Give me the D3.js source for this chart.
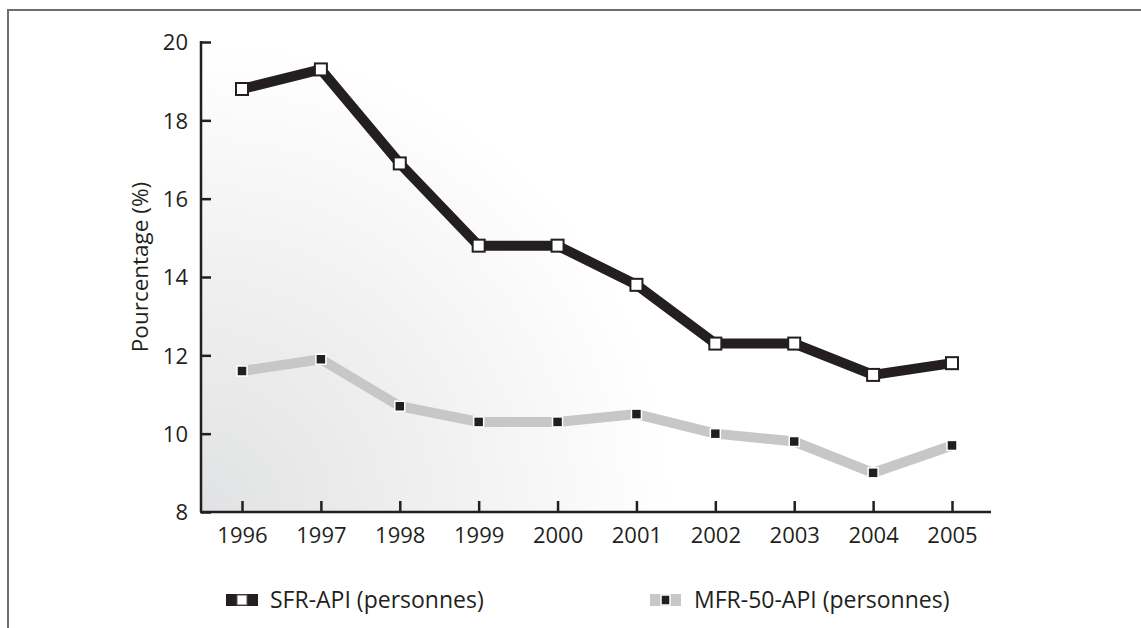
<!DOCTYPE html>
<html>
<head>
<meta charset="utf-8">
<script src="https://cdn.jsdelivr.net/npm/d3@7"></script>
<style>
  body { margin: 0; background: #fff; }
  svg { display: block; font-family: "Open Sans", "Noto Sans", sans-serif; }
</style>
</head>
<body>
<svg id="chart" width="1141" height="628"></svg>
<script>
// Years on the x axis
const years = ["1996", "1997", "1998", "1999", "2000", "2001", "2002", "2003", "2004", "2005"]
// SFR-API (personnes), in percent
const sfrValues = [18.8, 19.3, 16.9, 14.8, 14.8, 13.8, 12.3, 12.3, 11.5, 11.8]
// MFR-50-API (personnes), in percent
const mfrValues = [11.6, 11.9, 10.7, 10.3, 10.3, 10.5, 10.0, 9.8, 9.0, 9.7]
const yTicks = [8, 10, 12, 14, 16, 18, 20]
const seriesNames = ["SFR-API (personnes)", "MFR-50-API (personnes)"]

const ink = "#231f20"
const svg = d3.select("#chart")

// Plot area limits
const plotLeft = 201, plotRight = 991, plotTop = 42, plotBottom = 512

const x = d3.scalePoint().domain(years).range([242, 952])
const y = d3.scaleLinear().domain([8, 20]).range([plotBottom, plotTop])

// Outer frame (top and left edges only)
svg.append("path")
  .attr("d", `M8,628 V10 H1141`)
  .attr("fill", "none")
  .attr("stroke", "#6d6d6d")
  .attr("stroke-width", 2)

// Soft gray glow from the bottom left corner
const defs = svg.append("defs")
const grad = defs.append("radialGradient")
  .attr("id", "bg")
  .attr("gradientUnits", "userSpaceOnUse")
  .attr("cx", plotLeft).attr("cy", plotBottom).attr("r", 470)
grad.append("stop").attr("offset", 0).attr("stop-color", "#e1e2e3")
grad.append("stop").attr("offset", 0.5).attr("stop-color", "#f0f0f0")
grad.append("stop").attr("offset", 1).attr("stop-color", "#ffffff")

svg.append("rect")
  .attr("x", plotLeft).attr("y", plotTop)
  .attr("width", plotRight - plotLeft).attr("height", plotBottom - plotTop)
  .attr("fill", "url(#bg)")

// Y axis
const yAxis = svg.append("g")
  .attr("transform", `translate(${plotLeft},0)`)
  .call(d3.axisLeft(y).tickValues(yTicks).tickSize(-10).tickPadding(13))
yAxis.select(".domain").attr("d", `M0,${plotTop - 1}V${plotBottom}`)

// X axis
const xAxis = svg.append("g")
  .attr("transform", `translate(0,${plotBottom})`)
  .call(d3.axisBottom(x).tickSize(-11).tickPadding(15))
xAxis.select(".domain").attr("d", `M${plotLeft - 1},0H${plotRight}`)

svg.selectAll(".tick text")
  .attr("font-size", 22)
  .attr("fill", ink)
  .attr("font-family", "'Open Sans', 'Noto Sans', sans-serif")
svg.selectAll(".domain, .tick line")
  .attr("stroke", ink)
  .attr("stroke-width", 2.5)
yAxis.selectAll(".tick text").attr("dy", "0.36em")
xAxis.selectAll(".tick text").attr("dy", "0.71em")

// Y axis title
svg.append("text")
  .attr("transform", `translate(148,267) rotate(-90)`)
  .attr("text-anchor", "middle")
  .attr("font-size", 22.5)
  .attr("fill", ink)
  .text("Pourcentage (%)")

const line = d3.line()
  .x((d, i) => x(years[i]))
  .y(d => y(d))

// MFR series: light gray line, black squares
svg.append("path")
  .datum(mfrValues)
  .attr("d", line)
  .attr("fill", "none")
  .attr("stroke", "#c6c7c8")
  .attr("stroke-width", 10)

svg.append("g").selectAll("rect")
  .data(mfrValues)
  .join("rect")
  .attr("x", (d, i) => x(years[i]) - 5)
  .attr("y", d => y(d) - 5)
  .attr("width", 10).attr("height", 10)
  .attr("fill", ink)
  .attr("stroke", "#fff")
  .attr("stroke-width", 1.5)

// SFR series: thick black line, white squares
svg.append("path")
  .datum(sfrValues)
  .attr("d", line)
  .attr("fill", "none")
  .attr("stroke", ink)
  .attr("stroke-width", 10)

svg.append("g").selectAll("rect")
  .data(sfrValues)
  .join("rect")
  .attr("x", (d, i) => x(years[i]) - 6)
  .attr("y", d => y(d) - 6)
  .attr("width", 12).attr("height", 12)
  .attr("fill", "#fff")
  .attr("stroke", ink)
  .attr("stroke-width", 2)

// Legend
const legendY = 600
const lg1 = svg.append("g").attr("transform", `translate(226,${legendY})`)
lg1.append("rect").attr("x", 0).attr("y", -6).attr("width", 32).attr("height", 12).attr("fill", ink)
lg1.append("rect").attr("x", 11).attr("y", -5).attr("width", 10).attr("height", 10)
  .attr("fill", "#fff").attr("stroke", "#555").attr("stroke-width", 1)
lg1.append("text").attr("x", 44).attr("dy", "0.36em")
  .attr("font-size", 23).attr("fill", ink).text(seriesNames[0])

const lg2 = svg.append("g").attr("transform", `translate(650,${legendY})`)
lg2.append("rect").attr("x", 0).attr("y", -6).attr("width", 31).attr("height", 12).attr("fill", "#c6c7c8")
lg2.append("rect").attr("x", 11).attr("y", -5).attr("width", 9).attr("height", 10)
  .attr("fill", ink).attr("stroke", "#fff").attr("stroke-width", 1.5)
lg2.append("text").attr("x", 44).attr("dy", "0.36em")
  .attr("font-size", 23).attr("fill", ink).text(seriesNames[1])
</script>
</body>
</html>
